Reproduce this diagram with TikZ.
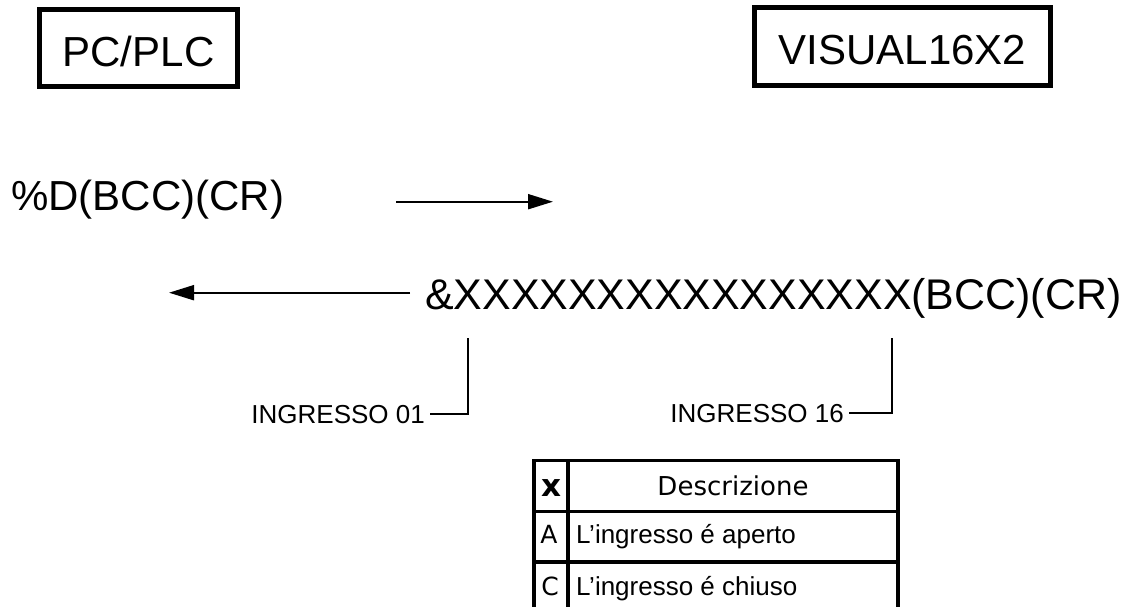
\documentclass[tikz,border=0pt]{standalone}
\usepackage{fontspec}
\setmainfont{Liberation Sans}
\newfontfamily\dvs{DejaVu Sans}
\usetikzlibrary{arrows.meta}
\tikzset{
  big/.style={font=\fontsize{42}{50}\selectfont, inner sep=0pt},
  small/.style={font=\fontsize{26}{30}\selectfont, inner xsep=5pt, inner ysep=0pt},
  titlebox/.style={draw, line width=5pt, inner sep=0pt, text depth=0pt, font=\fontsize{42}{50}\selectfont},
  flow/.style={line width=2pt, -{Triangle[length=25pt,width=15pt]}},
  bracket/.style={line width=2pt},
  grid/.style={line width=3.5pt},
  cell/.style={font=\dvs\fontsize{26}{30}\selectfont, inner sep=0pt, anchor=base},
  keycell/.style={font=\dvs\fontsize{25}{30}\selectfont, inner sep=0pt, anchor=base},
  celltxt/.style={font=\fontsize{26}{30}\selectfont, inner sep=0pt, anchor=base west}
}
\begin{document}
\begin{tikzpicture}[x=1pt,y=-1pt]
\useasboundingbox (0,0) rectangle (1125,607);
% title boxes
\node[titlebox, text height=38pt, minimum width=198pt, minimum height=77pt] (plc) at (138.5,48) {PC/PLC};
\node[titlebox, text height=37pt, minimum width=296pt, minimum height=78pt] (vis) at (902.5,46.5) {VISUAL16X2};
% messages
\node[big, anchor=base west] (req) at (11,210) {\%D(BCC)(CR)};
\node[big, anchor=base west, font=\fontsize{42.9}{50}\selectfont] (resp) at (425,309) {\&XXXXXXXXXXXXXXXX(BCC)(CR)};
\coordinate (a1s) at (396,201.7);
\coordinate (a1e) at (553,201.7);
\coordinate (a2s) at (410,292.7);
\coordinate (a2e) at (169,292.7);
\draw[flow] (a1s) -- (a1e);
\draw[flow] (a2s) -- (a2e);
% input brackets
\coordinate (b1) at (468,338);
\coordinate (b16) at (892,338);
\node[small, anchor=base east] (in01) at (430,423) {INGRESSO 01};
\node[small, anchor=base east] (in16) at (849,422) {INGRESSO 16};
\draw[bracket] (b1) |- (in01.east);
\draw[bracket] (b16) |- (in16.east);
% table
\draw[grid] (534,609) -- (534,460.5) -- (898,460.5) -- (898,609);
\draw[grid] (568,460.5) -- (568,609);
\draw[grid] (534,511.5) -- (898,511.5);
\draw[grid] (534,562) -- (898,562);
\node[cell, font=\dvs\bfseries\fontsize{31}{34}\selectfont] (hx) at (551,496) {x};
\node[cell] (hd) at (733,495) {Descrizione};
\node[keycell] (ra) at (549,543) {A};
\node[celltxt] (rat) at (576,543) {L’ingresso é aperto};
\node[keycell] (rc) at (550,595) {C};
\node[celltxt] (rct) at (576,595) {L’ingresso é chiuso};
\end{tikzpicture}
\end{document}
